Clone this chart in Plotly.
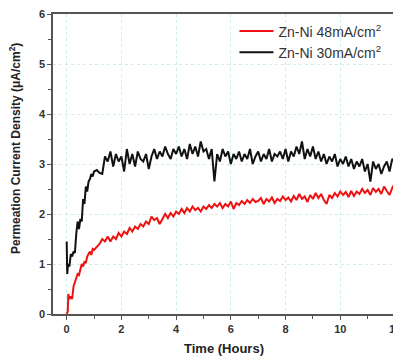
import plotly.graph_objects as go

# Time (hours) and permeation current density (uA/cm^2)
t_black = [0.00, 0.02, 0.05, 0.10, 0.15, 0.20, 0.25, 0.30, 0.35, 0.40, 0.45, 0.50, 0.55, 0.60, 0.65, 0.70, 0.75, 0.80, 0.85, 0.90, 0.95, 1.00, 1.10, 1.20, 1.30, 1.40, 1.50,
           1.6, 1.7, 1.8, 1.9, 2.0, 2.1, 2.2, 2.3, 2.4, 2.5, 2.6, 2.7, 2.8, 2.9, 3.0, 3.1, 3.2, 3.3, 3.4, 3.5, 3.6, 3.7, 3.8, 3.9,
           4.0, 4.1, 4.2, 4.3, 4.4, 4.5, 4.6, 4.7, 4.8, 4.9, 5.0, 5.1, 5.2, 5.3, 5.4, 5.5, 5.6, 5.7, 5.8, 5.9,
           6.0, 6.1, 6.2, 6.3, 6.4, 6.5, 6.6, 6.7, 6.8, 6.9, 7.0, 7.1, 7.2, 7.3, 7.4, 7.5, 7.6, 7.7, 7.8, 7.9,
           8.0, 8.1, 8.2, 8.3, 8.4, 8.5, 8.6, 8.7, 8.8, 8.9, 9.0, 9.1, 9.2, 9.3, 9.4, 9.5, 9.6, 9.7, 9.8, 9.9,
           10.0, 10.1, 10.2, 10.3, 10.4, 10.5, 10.6, 10.7, 10.8, 10.9, 11.0, 11.1, 11.2, 11.3, 11.4, 11.5, 11.6, 11.7, 11.8, 11.9, 12.0]
j_black = [1.45, 0.80, 1.00, 0.95, 1.20, 1.15, 1.25, 1.22, 1.60, 1.85, 1.70, 1.90, 1.85, 2.30, 2.20, 2.55, 2.45, 2.65, 2.70, 2.80, 2.75, 2.85, 2.88, 2.82, 2.80, 3.15, 3.05,
           3.25, 2.95, 3.20, 3.05, 3.15, 2.85, 3.30, 3.00, 3.20, 2.95, 3.25, 3.10, 3.05, 3.20, 2.90, 3.15, 3.30, 3.10, 3.25, 3.15, 3.35, 3.20, 3.10, 3.30,
           3.20, 3.35, 3.15, 3.30, 3.10, 3.40, 3.20, 3.35, 3.15, 3.45, 3.25, 3.30, 3.10, 3.30, 2.65, 3.20, 3.05, 3.30, 3.15, 3.25,
           3.00, 3.20, 3.10, 3.25, 3.05, 3.20, 3.10, 3.30, 3.00, 3.15, 3.25, 3.05, 3.20, 3.10, 3.30, 3.05, 3.20, 3.15, 3.25, 3.10,
           3.30, 3.05, 3.25, 3.15, 3.35, 3.20, 3.45, 3.10, 3.30, 3.15, 3.35, 3.10, 3.25, 3.05, 3.20, 3.00, 3.15, 3.05, 3.20, 2.95,
           3.10, 3.00, 3.15, 2.95, 3.10, 2.90, 3.05, 2.95, 3.10, 2.85, 3.00, 2.65, 3.05, 2.90, 3.00, 2.80, 2.95, 3.05, 2.85, 3.10, 3.05]

t_red = [0.00, 0.04, 0.06, 0.10, 0.15, 0.20, 0.25, 0.30, 0.35, 0.40, 0.45, 0.50, 0.55, 0.60, 0.65, 0.70, 0.75, 0.80, 0.85, 0.90, 0.95, 1.00, 1.10, 1.20, 1.30, 1.40, 1.50,
         1.6, 1.7, 1.8, 1.9, 2.0, 2.1, 2.2, 2.3, 2.4, 2.5, 2.6, 2.7, 2.8, 2.9, 3.0, 3.1, 3.2, 3.3, 3.4, 3.5, 3.6, 3.7, 3.8, 3.9,
         4.0, 4.1, 4.2, 4.3, 4.4, 4.5, 4.6, 4.7, 4.8, 4.9, 5.0, 5.1, 5.2, 5.3, 5.4, 5.5, 5.6, 5.7, 5.8, 5.9,
         6.0, 6.1, 6.2, 6.3, 6.4, 6.5, 6.6, 6.7, 6.8, 6.9, 7.0, 7.1, 7.2, 7.3, 7.4, 7.5, 7.6, 7.7, 7.8, 7.9,
         8.0, 8.1, 8.2, 8.3, 8.4, 8.5, 8.6, 8.7, 8.8, 8.9, 9.0, 9.1, 9.2, 9.3, 9.4, 9.5, 9.6, 9.7, 9.8, 9.9,
         10.0, 10.1, 10.2, 10.3, 10.4, 10.5, 10.6, 10.7, 10.8, 10.9, 11.0, 11.1, 11.2, 11.3, 11.4, 11.5, 11.6, 11.7, 11.8, 11.9, 12.0]
j_red = [0.00, 0.05, 0.40, 0.30, 0.35, 0.30, 0.55, 0.65, 0.70, 0.80, 0.78, 0.90, 1.00, 0.95, 1.05, 1.02, 1.15, 1.20, 1.25, 1.18, 1.30, 1.28, 1.35, 1.40, 1.50, 1.45, 1.55,
         1.45, 1.55, 1.50, 1.62, 1.55, 1.65, 1.60, 1.72, 1.65, 1.75, 1.70, 1.80, 1.75, 1.85, 1.80, 1.95, 1.88, 1.92, 1.80, 1.90, 2.00, 1.92, 2.02, 1.95,
         2.05, 2.00, 2.10, 2.02, 2.12, 2.05, 2.15, 2.08, 2.12, 2.05, 2.15, 2.10, 2.18, 2.12, 2.20, 2.15, 2.22, 2.12, 2.20, 2.15,
         2.25, 2.10, 2.22, 2.18, 2.26, 2.20, 2.28, 2.22, 2.30, 2.24, 2.26, 2.32, 2.20, 2.30, 2.25, 2.33, 2.22, 2.30, 2.26, 2.35,
         2.28, 2.33, 2.25, 2.36, 2.28, 2.40, 2.30, 2.35, 2.24, 2.38, 2.30, 2.42, 2.32, 2.40, 2.28, 2.20, 2.38, 2.32, 2.42, 2.35,
         2.45, 2.38, 2.44, 2.34, 2.46, 2.36, 2.45, 2.40, 2.50, 2.42, 2.48, 2.38, 2.52, 2.44, 2.50, 2.40, 2.55, 2.46, 2.38, 2.52, 2.62]

x_ticks = [0, 2, 4, 6, 8, 10, 12]
y_ticks = [0, 1, 2, 3, 4, 5, 6]
names = ["Zn-Ni 48mA/cm<sup>2</sup>", "Zn-Ni 30mA/cm<sup>2</sup>"]

FONT = "Arial, Liberation Sans, sans-serif"

fig = go.Figure()
fig.add_trace(go.Scatter(x=t_red, y=j_red, mode="lines", name=names[0],
                         line=dict(color="#ee1111", width=2)))
fig.add_trace(go.Scatter(x=t_black, y=j_black, mode="lines", name=names[1],
                         line=dict(color="#111111", width=2)))

axis_common = dict(
    showline=True, linecolor="#555555", linewidth=1.5, mirror=True,
    ticks="outside", ticklen=4, tickwidth=1.2, tickcolor="#555555",
    showgrid=True, gridcolor="#c8eeee", griddash="dot", gridwidth=1,
    zeroline=False, ticklabeloverflow="allow",
    tickfont=dict(family=FONT, size=11, color="#333333", weight="bold"),
)

fig.update_xaxes(range=[-0.5, 12], tickvals=x_ticks, ticktext=[str(v) for v in x_ticks],
                 minor=dict(ticks="outside", ticklen=3, dtick=1, tick0=0, tickcolor="#555555", showgrid=False),
                 title=dict(text="<b>Time (Hours)</b>", font=dict(family=FONT, size=13, color="#222222"), standoff=10),
                 **axis_common)
fig.update_yaxes(range=[0, 6], tickvals=y_ticks, ticktext=[str(v) for v in y_ticks],
                 minor=dict(ticks="outside", ticklen=3, dtick=0.5, tick0=0, tickcolor="#555555", showgrid=False),
                 **axis_common)

fig.add_annotation(text="<b>Permeation Current Density (μA/cm<sup>2</sup>)</b>",
                   xref="paper", yref="paper", x=-0.111, y=0.55, textangle=-90,
                   showarrow=False, xanchor="center", yanchor="middle",
                   font=dict(family=FONT, size=12, color="#222222"))

# page body has an 8px margin, so the figure is sized to sit at (8, 8)
fig.update_layout(
    width=393, height=352,
    margin=dict(l=45, r=5, t=0, b=46),
    paper_bgcolor="white", plot_bgcolor="white",
    legend=dict(x=0.975, y=0.995, xanchor="right", yanchor="top",
                bgcolor="rgba(0,0,0,0)", borderwidth=0, itemwidth=34,
                font=dict(family=FONT, size=14, color="#333333")),
    showlegend=True,
)

fig.write_html("out.html")
